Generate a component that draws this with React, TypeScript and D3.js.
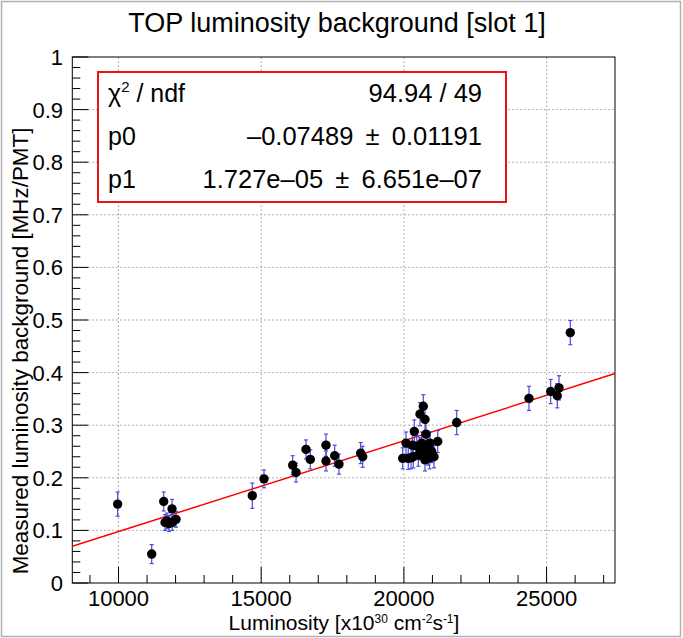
import React from 'react';
import * as d3 from 'd3';

const lumi = [9970, 11163, 11584, 11875, 11630, 11770, 11885, 12015, 11700,
  14688, 15098, 16103, 16220, 16570, 16720, 17270, 17270, 17575, 17725, 18485, 18556,
  21850, 19958, 20074, 20154, 20249, 20295, 20365, 20505, 20565, 20623, 20680, 20740,
  20775, 20680, 20740, 20915, 20975, 21055, 21185, 20560, 20850, 20450, 20820, 20330, 20900,
  24383, 25143, 25375, 25435, 25830];
const bkg = [0.150, 0.055, 0.155, 0.141, 0.115, 0.113, 0.115, 0.121, 0.118,
  0.166, 0.198, 0.224, 0.210, 0.254, 0.235, 0.262, 0.232, 0.242, 0.226, 0.247, 0.240,
  0.305, 0.237, 0.266, 0.237, 0.238, 0.262, 0.288, 0.243, 0.321, 0.266, 0.336, 0.311,
  0.283, 0.250, 0.234, 0.266, 0.250, 0.240, 0.269, 0.255, 0.245, 0.260, 0.262, 0.240, 0.238,
  0.351, 0.364, 0.356, 0.371, 0.476];
const bkgErr = [0.023, 0.018, 0.018, 0.018, 0.015, 0.015, 0.015, 0.015, 0.015,
  0.024, 0.017, 0.018, 0.018, 0.018, 0.018, 0.021, 0.019, 0.020, 0.019, 0.020, 0.020,
  0.023, 0.020, 0.021, 0.021, 0.021, 0.021, 0.022, 0.021, 0.022, 0.021, 0.022, 0.022,
  0.022, 0.021, 0.021, 0.021, 0.021, 0.021, 0.021, 0.021, 0.021, 0.021, 0.021, 0.021, 0.021,
  0.023, 0.023, 0.023, 0.023, 0.023];

const fitP0 = -0.07489;
const fitP1 = 1.727e-5;
const xMajorTicks = [10000, 15000, 20000, 25000];
const xTickLabels = ['10000', '15000', '20000', '25000'];
const yMajorTicks = [0, 0.1, 0.2, 0.3, 0.4, 0.5, 0.6, 0.7, 0.8, 0.9, 1];
const yTickLabels = ['0', '0.1', '0.2', '0.3', '0.4', '0.5', '0.6', '0.7', '0.8', '0.9', '1'];
const statNames = ['χ', 'p0', 'p1'];
const statValues = ['94.94 / 49', '–0.07489\u2009 ± \u20090.01191', '1.727e–05\u2009 ± \u20096.651e–07'];

const W = 683, H = 638;
const F = 'Liberation Sans, Arial, Helvetica, sans-serif';

export default function App() {
  const x = d3.scaleLinear().domain([8381, 27397]).range([72.3, 615]);
  const y = d3.scaleLinear().domain([0, 1]).range([583, 57]);
  const [x0, x1] = x.range();
  const [yb, yt] = y.range();
  const xMinor = d3.range(9000, 27001, 1000);
  const yMinor = d3.range(0, 1.0001, 0.02);
  const fitLine = d3.line<number>().x(v => x(v)).y(v => y(fitP0 + fitP1 * v));
  const blue = '#4a4ae0';
  return (
    <svg width={W} height={H} style={{ position: 'absolute', left: 0, top: 0, background: '#fff' }} fontFamily={F}>
      <rect x={1.5} y={1.5} width={W - 4} height={H - 3} fill="#fff" stroke="#b0b0b0" strokeWidth={1.5} />
      <text x={337} y={32} fontSize={27} textAnchor="middle">TOP luminosity background [slot 1]</text>
      {/* grid */}
      {xMajorTicks.map(t => (
        <line key={'gx' + t} x1={x(t)} x2={x(t)} y1={yb} y2={yt} stroke="#999" strokeDasharray="1.5 2.5" />
      ))}
      {yMajorTicks.slice(1, -1).map(t => (
        <line key={'gy' + t} x1={x0} x2={x1} y1={y(t)} y2={y(t)} stroke="#999" strokeDasharray="1.5 2.5" />
      ))}
      {/* frame */}
      <rect x={x0} y={yt} width={x1 - x0} height={yb - yt} fill="none" stroke="#000" strokeWidth={1} />
      {/* x ticks */}
      {xMinor.map(t => {
        const major = t % 5000 === 0;
        return <line key={'tx' + t} x1={x(t)} x2={x(t)} y1={yb} y2={yb - (major ? 16 : 8)} stroke="#000" />;
      })}
      {yMinor.map((t, i) => {
        const major = i % 5 === 0;
        return <line key={'ty' + i} x1={x0} x2={x0 + (major ? 16 : 8)} y1={y(t)} y2={y(t)} stroke="#000" />;
      })}
      {xMajorTicks.map((t, i) => (
        <text key={'lx' + t} x={x(t)} y={606} fontSize={22} textAnchor="middle">{xTickLabels[i]}</text>
      ))}
      {yMajorTicks.map((t, i) => (
        <text key={'ly' + t} x={63} y={y(t) + 8} fontSize={22} textAnchor="end">{yTickLabels[i]}</text>
      ))}
      {/* axis titles */}
      <text x={344} y={630} fontSize={21} textAnchor="middle">
        Luminosity [x10<tspan fontSize={12} dy={-7}>30</tspan><tspan dy={7}> cm</tspan>
        <tspan fontSize={12} dy={-7}>-2</tspan><tspan dy={7}>s</tspan>
        <tspan fontSize={12} dy={-7}>-1</tspan><tspan dy={7}>]</tspan>
      </text>
      <text transform="translate(28,351) rotate(-90)" fontSize={22.4} textAnchor="middle">
        Measured luminosity background [MHz/PMT]
      </text>
      {/* fit line */}
      <path d={fitLine([8381, 27397]) || ''} fill="none" stroke="#ff0000" strokeWidth={1.5} />
      {/* error bars */}
      {lumi.map((l, i) => (
        <g key={'e' + i} stroke={blue} strokeWidth={1.2}>
          <line x1={x(l)} x2={x(l)} y1={y(bkg[i] - bkgErr[i])} y2={y(bkg[i] + bkgErr[i])} />
          <line x1={x(l) - 2} x2={x(l) + 2} y1={y(bkg[i] - bkgErr[i])} y2={y(bkg[i] - bkgErr[i])} />
          <line x1={x(l) - 2} x2={x(l) + 2} y1={y(bkg[i] + bkgErr[i])} y2={y(bkg[i] + bkgErr[i])} />
        </g>
      ))}
      {lumi.map((l, i) => (
        <circle key={'p' + i} cx={x(l)} cy={y(bkg[i])} r={4.7} fill="#000" />
      ))}
      {/* stats box */}
      <rect x={98} y={72} width={408} height={130} fill="#fff" stroke="#ee1111" strokeWidth={2} />
      {statNames.map((n, i) => (
        <text key={'sn' + i} x={108} y={102 + i * 43} fontSize={25}>
          {i === 0 ? (<>χ<tspan fontSize={15} dy={-10}>2</tspan><tspan dy={10}> / ndf</tspan></>) : n}
        </text>
      ))}
      {statValues.map((v, i) => (
        <text key={'sv' + i} x={482} y={102 + i * 43} fontSize={25.5} textAnchor="end">{v}</text>
      ))}
    </svg>
  );
}
